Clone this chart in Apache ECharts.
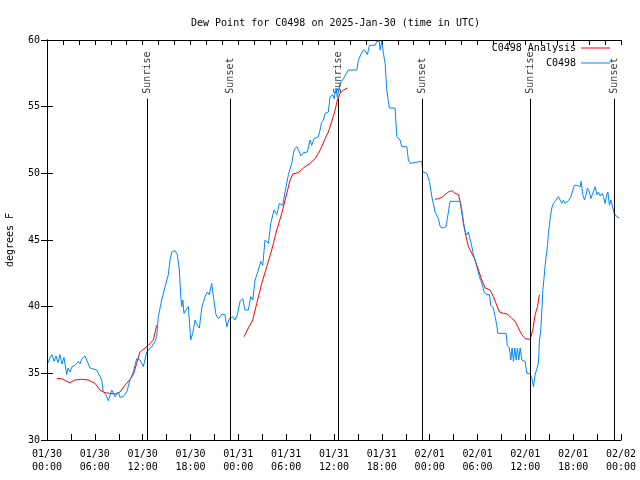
<!DOCTYPE html>
<html>
<head>
<meta charset="utf-8">
<script src="https://cdn.jsdelivr.net/npm/echarts@6/dist/echarts.min.js"></script>
<style>html,body{margin:0;padding:0;background:#fff}#c{width:640px;height:480px}</style>
</head>
<body>
<div id="c"></div>
<script>
// ---- data (hours since 2025-01-30 00:00 UTC) ----
const tickDates = ['01/30','01/30','01/30','01/30','01/31','01/31','01/31','01/31','02/01','02/01','02/01','02/01','02/02'];
const tickTimes = ['00:00','06:00','12:00','18:00','00:00','06:00','12:00','18:00','00:00','06:00','12:00','18:00','00:00'];

const obsHours = [0.16,0.38,0.63,0.88,1.13,1.38,1.63,1.88,2.13,2.47,2.63,2.89,3.14,3.51,3.93,4.14,4.39,4.77,5.02,5.40,6.24,6.86,7.06,7.40,7.69,8.12,8.53,8.95,9.16,9.57,10.0,10.41,10.83,11.25,11.67,12.08,12.51,13.14,13.34,13.55,13.76,13.96,14.39,14.81,15.22,15.43,15.65,16.06,16.35,16.60,16.78,16.90,17.03,17.19,17.44,17.73,17.85,18.03,18.28,18.57,18.86,19.11,19.41,19.82,20.11,20.36,20.66,20.87,21.20,21.49,21.92,22.33,22.55,22.87,23.30,23.59,23.88,24.22,24.55,24.84,25.26,25.56,25.81,26.10,26.51,26.81,27.06,27.35,27.77,28.07,28.48,28.82,29.15,29.57,29.86,30.28,30.70,30.99,31.33,31.66,31.83,32.16,32.66,33.00,33.21,33.50,34.04,34.25,34.44,34.67,34.88,35.29,35.51,35.85,36.01,36.26,36.42,36.76,37.18,37.80,38.86,39.06,39.36,39.69,40.03,40.19,40.44,41.15,41.37,41.69,41.78,41.99,42.20,42.41,42.62,42.82,42.95,43.66,43.88,44.29,44.50,45.13,45.33,45.55,45.76,47.01,47.14,47.64,47.97,48.27,48.68,49.10,49.31,49.72,50.06,50.35,50.56,51.82,52.03,52.23,52.45,52.66,52.86,53.07,53.29,53.49,53.70,53.91,54.24,54.54,54.83,55.17,55.50,55.67,56.00,56.21,56.42,56.55,57.59,57.75,58.00,58.18,58.34,58.51,58.68,58.85,59.01,59.18,59.35,59.56,59.76,59.97,60.19,60.60,60.82,61.02,61.23,61.44,61.64,61.77,61.94,62.07,62.20,62.36,62.48,62.61,62.77,62.90,63.11,63.32,63.53,63.86,64.15,64.37,64.58,64.78,64.99,65.41,65.71,65.96,66.16,66.46,66.66,66.88,67.00,67.21,67.42,67.63,67.79,68.04,68.22,68.47,68.76,68.97,69.17,69.39,69.60,69.80,70.01,70.22,70.35,70.55,70.73,70.98,71.14,71.36,71.56,71.81];
const obsValues = [35.8,36.2,36.4,35.9,36.3,35.8,36.4,35.7,36.2,34.9,35.4,35.1,35.5,35.6,35.9,35.7,36.1,36.3,36.2,35.4,35.25,34.5,33.6,33.4,32.95,33.75,33.25,33.6,33.2,33.25,33.6,34.5,35.1,36.1,36.0,35.5,36.6,37.0,36.9,37.4,37.75,39.25,40.5,41.5,42.4,43.5,44.1,44.2,43.9,42.75,40.75,40.0,40.5,39.5,39.75,40.0,39.0,37.5,38.0,39.0,38.6,38.4,39.9,40.75,41.1,40.9,41.75,40.75,39.4,39.1,39.4,39.4,38.5,39.1,39.25,39.0,39.4,40.4,40.6,39.75,39.75,40.75,40.5,42.0,42.75,43.4,43.1,45.0,44.75,46.25,47.25,46.9,47.75,47.6,48.6,49.9,50.75,51.75,52.0,51.6,51.3,51.55,51.6,52.5,52.1,52.6,52.75,53.25,53.8,54.0,54.5,54.6,55.75,55.9,55.6,56.4,55.7,56.75,57.1,57.75,57.75,58.5,58.9,59.25,59.1,58.9,59.6,59.6,59.9,59.9,59.25,59.9,59.0,58.25,56.25,55.4,54.9,54.9,52.75,52.5,52.0,52.0,51.0,50.75,50.9,50.9,50.1,50.0,49.4,48.25,47.1,46.6,46.0,45.9,46.0,47.1,47.9,47.9,47.25,46.4,45.6,45.4,45.6,45.6,44.5,43.9,43.9,43.0,42.25,41.75,41.1,40.9,40.9,40.1,39.9,39.25,38.6,38.0,38.0,37.1,36.9,36.0,36.9,35.9,36.9,36.0,36.9,36.0,36.9,36.0,36.0,35.9,35.0,34.95,34.6,34.0,34.9,35.0,35.75,37.5,38.25,39.75,41.25,42.25,43.1,43.75,44.5,45.5,46.6,47.4,47.75,48.0,48.25,48.25,47.75,48.0,47.75,47.95,48.25,48.1,49.1,49.1,49.2,49.0,49.4,48.4,48.0,48.4,48.9,48.6,48.1,48.05,49.0,48.4,48.6,48.3,48.5,48.25,47.75,48.4,48.6,47.6,48.0,47.9,47.0,47.0,46.7,46.7];

// null = gap between analysis runs
const anaHours = [1.22,1.84,2.47,2.89,3.51,4.35,5.18,6.02,6.65,7.28,7.90,8.53,9.16,9.79,10.41,10.83,11.25,11.67,12.30,12.71,13.34,13.76,
  19.0,
  24.72,25.26,25.81,26.31,26.94,27.57,28.19,28.82,29.45,30.08,30.49,30.83,31.53,32.16,33.00,33.63,34.04,34.47,34.88,35.29,35.72,36.14,36.42,36.76,37.18,37.68,
  43.0,
  48.68,49.10,49.52,49.94,50.35,50.78,51.19,51.61,51.82,52.23,52.57,52.86,53.29,53.70,54.12,54.54,54.96,55.58,56.00,56.42,56.75,57.25,57.75,58.31,58.72,59.13,59.56,59.97,60.60,60.94,61.23,61.52,61.77];
const anaValues = [34.6,34.6,34.4,34.3,34.5,34.55,34.5,34.25,33.75,33.55,33.5,33.45,33.6,34.1,34.55,34.9,35.75,36.6,36.9,37.1,37.5,38.6,
  null,
  37.75,38.4,39.0,40.25,41.75,43.0,44.25,45.75,47.0,48.5,49.5,49.95,50.05,50.4,50.75,51.1,51.5,52.0,52.6,53.1,53.9,54.75,55.5,56.0,56.25,56.4,
  null,
  48.05,48.1,48.2,48.4,48.6,48.7,48.5,48.4,47.9,46.25,45.25,44.5,44.0,43.5,42.75,42.0,41.4,41.25,40.75,40.1,39.6,39.5,39.45,39.1,38.9,38.4,37.9,37.6,37.55,38.25,39.4,40.0,40.9];

const eventHours = [12.55, 22.96, 36.51, 47.05, 60.60, 71.14];
const eventNames = ['Sunrise','Sunset','Sunrise','Sunset','Sunrise','Sunset'];
const eventTop = 55.6;

const FONT = 'DejaVu Sans Mono';
const obsData = obsHours.map((h, i) => [h, obsValues[i]]);
const anaData = anaHours.map((h, i) => [h, anaValues[i] == null ? '-' : anaValues[i]]);
const evData = eventHours.map((h, i) => ({ value: [h, eventTop], name: eventNames[i] }));
const evLines = eventHours.map(h => [{ coord: [h, 30] }, { coord: [h, eventTop] }]);

const chart = echarts.init(document.getElementById('c'), null, { renderer: 'canvas' });
const axisLine = { show: true, lineStyle: { color: '#000', width: 1 } };
const legendBase = { right: 30, padding: 0, align: 'right', icon: 'rect', itemWidth: 29, itemHeight: 1,
  textStyle: { fontFamily: FONT, fontSize: 10, color: '#000' }, selectedMode: false };
chart.setOption({
  animation: false,
  backgroundColor: '#fff',
  title: {
    text: 'Dew Point for C0498 on 2025-Jan-30 (time in UTC)',
    left: 186, top: 13,
    textStyle: { fontFamily: FONT, fontSize: 10, fontWeight: 'normal', color: '#000' }
  },
  legend: [
    Object.assign({ data: ['C0498 Analysis'], top: 43 }, legendBase),
    Object.assign({ data: ['C0498'], top: 58 }, legendBase)
  ],
  grid: { left: 47, right: 19, top: 40, bottom: 40, containLabel: false, outerBoundsMode: 'none' },
  xAxis: [
    { type: 'value', position: 'bottom', min: 0, max: 72, interval: 6,
      axisLine: axisLine,
      axisTick: { show: true, inside: true, length: 6, lineStyle: { color: '#000' } },
      minorTick: { show: true, splitNumber: 2, length: 6, lineStyle: { color: '#000' } },
      splitLine: { show: false },
      axisLabel: { margin: 8, fontFamily: FONT, fontSize: 10, color: '#000', lineHeight: 13,
        formatter: v => { const i = Math.round(v / 6); return tickDates[i] + '\n' + tickTimes[i]; } } },
    { type: 'value', position: 'top', min: 0, max: 72, interval: 2,
      axisLine: axisLine,
      axisTick: { show: true, inside: true, length: 5, lineStyle: { color: '#000' } },
      splitLine: { show: false }, axisLabel: { show: false } }
  ],
  yAxis: [
    { type: 'value', position: 'left', min: 30, max: 60, interval: 5,
      name: 'degrees F', nameLocation: 'middle', nameGap: 32, nameRotate: 90,
      nameTextStyle: { fontFamily: FONT, fontSize: 10, color: '#000' },
      axisLine: axisLine,
      axisTick: { show: true, inside: true, length: 6, lineStyle: { color: '#000' } },
      splitLine: { show: false },
      axisLabel: { margin: 7, fontFamily: FONT, fontSize: 10, color: '#000' } },
    { type: 'value', position: 'right', min: 30, max: 60, interval: 5,
      axisLine: axisLine,
      axisTick: { show: true, inside: true, length: 6, lineStyle: { color: '#000' } },
      splitLine: { show: false }, axisLabel: { show: false } }
  ],
  series: [
    { name: 'events', type: 'scatter', data: evData, symbolSize: 0, silent: true, z: 1,
      label: { show: true, formatter: p => p.name, position: 'top', distance: 5, rotate: 90,
        align: 'left', verticalAlign: 'middle', fontFamily: FONT, fontSize: 10, color: '#000' },
      markLine: { silent: true, symbol: ['none', 'none'], label: { show: false },
        lineStyle: { color: '#000', width: 1, type: 'solid' }, data: evLines } },
    { name: 'C0498 Analysis', type: 'line', data: anaData, symbol: 'none', connectNulls: false, z: 2,
      lineStyle: { color: '#ff0000', width: 1 }, itemStyle: { color: '#ff0000' } },
    { name: 'C0498', type: 'line', data: obsData, symbol: 'none', z: 3,
      lineStyle: { color: '#0088ff', width: 1 }, itemStyle: { color: '#0088ff' } }
  ]
});
</script>
</body>
</html>
